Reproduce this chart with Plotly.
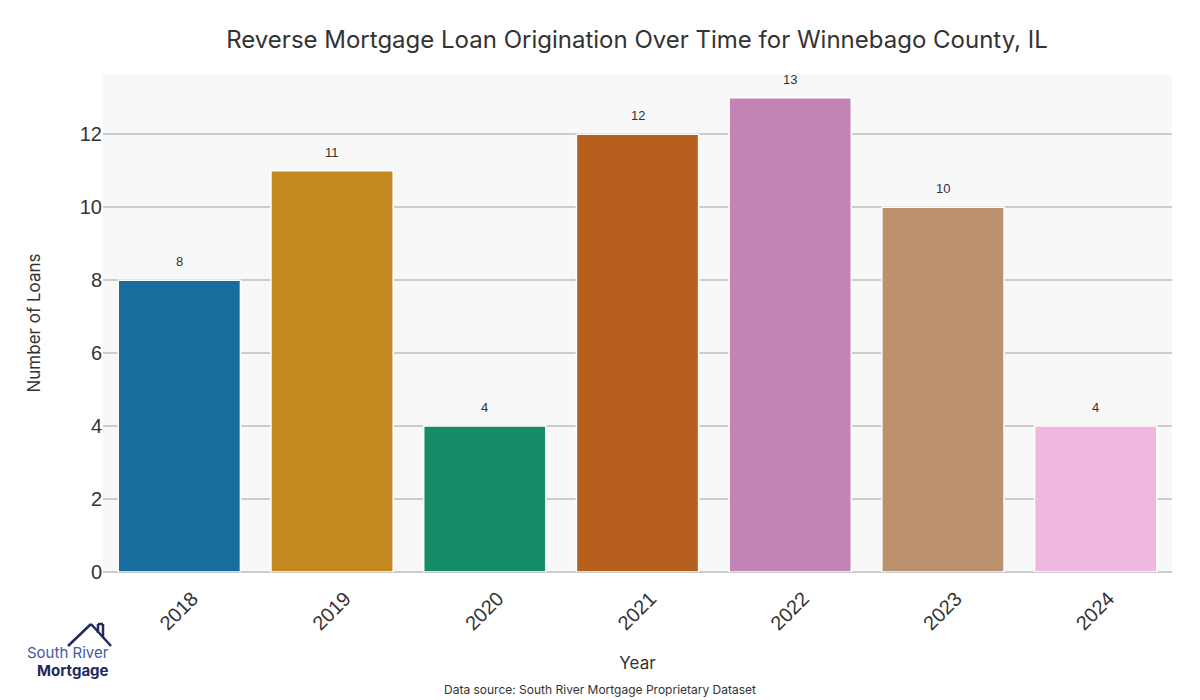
import plotly.graph_objects as go

years = ["2018", "2019", "2020", "2021", "2022", "2023", "2024"]
loans = [8, 11, 4, 12, 13, 10, 4]
colors = ["#176e9e", "#c38820", "#168c68", "#b75f1d", "#c283b5", "#bb926d", "#f0b7e0"]

# plot area in pixels (for logo placement helpers)
L, R, T, B = 103, 1172, 74, 572
def px(x):
    return (x - L) / (R - L)
def py(y):
    return (B - y) / (B - T)

fig = go.Figure()
fig.add_trace(go.Bar(
    x=years, y=loans,
    marker=dict(color=colors, line=dict(color="white", width=1.5)),
    width=0.8,
    showlegend=False,
    hoverinfo="x+y",
))

shapes = []
# house logo
house = [((68, 646), (91, 624)), ((91, 624), (111, 646)), ((98, 624), (98, 633)), ((98, 624), (103, 624)), ((103, 624), (103, 638))]
for (x0, y0), (x1, y1) in house:
    shapes.append(dict(type="line", xref="paper", yref="paper",
                       x0=px(x0), y0=py(y0), x1=px(x1), y1=py(y1),
                       line=dict(color="#1f2a5e", width=2.5)))

annotations = [
    dict(text=str(v), x=i, y=v, xref="x", yref="y", yanchor="bottom", yshift=9,
         showarrow=False, font=dict(family="Liberation Sans, Arial", size=13, color="#333333"))
    for i, v in enumerate(loans)
] + [
    dict(text="South River", xref="paper", yref="paper", x=px(111), y=py(652),
         showarrow=False, font=dict(family="Inter, Liberation Sans", size=15, color="#4458a8"),
         xanchor="right", yanchor="middle"),
    dict(text="<b>Mortgage</b>", xref="paper", yref="paper", x=px(111), y=py(670),
         showarrow=False, font=dict(family="Inter, Liberation Sans", size=15, color="#1f2a5e"),
         xanchor="right", yanchor="middle"),
    dict(text="Data source: South River Mortgage Proprietary Dataset", xref="paper", yref="paper",
         x=px(600), y=py(689), showarrow=False,
         font=dict(family="Inter, Liberation Sans", size=12, color="#333333"),
         xanchor="center", yanchor="middle"),
]

fig.update_layout(
    width=1200, height=700,
    paper_bgcolor="white", plot_bgcolor="#f8f8f8",
    margin=dict(l=L, r=1200 - R, t=T, b=700 - B, autoexpand=False),
    title=dict(text="Reverse Mortgage Loan Origination Over Time for Winnebago County, IL",
               x=px(637), xref="paper", xanchor="center", y=1 - 40 / 700, yanchor="middle",
               font=dict(family="Inter, Lato, sans-serif", size=24, color="#333333")),
    xaxis=dict(type="category",
               title=dict(text="Year", font=dict(family="Inter, Liberation Sans", size=17, color="#333333"), standoff=23),
               tickangle=-45, tickfont=dict(family="Liberation Sans, Arial", size=20, color="#333333"),
               ticklabelshift=13, ticklabelstandoff=10,
               range=[-0.5, 6.5], showgrid=False, ticks=""),
    yaxis=dict(title=dict(text="Number of Loans", font=dict(family="Inter, Liberation Sans", size=17, color="#333333"), standoff=34),
               range=[0, 13.65], tickvals=[0, 2, 4, 6, 8, 10, 12],
               tickfont=dict(family="Liberation Sans, Arial", size=20, color="#333333"),
               showgrid=True, gridcolor="#cccccc", gridwidth=1.5,
               zeroline=True, zerolinecolor="#cccccc", zerolinewidth=1.5, ticks=""),
    bargap=0.2,
    shapes=shapes,
    annotations=annotations,
)

fig.write_html("out.html", config={"displayModeBar": False},
               post_script="document.body.style.margin='0';document.body.style.overflow='hidden';")
